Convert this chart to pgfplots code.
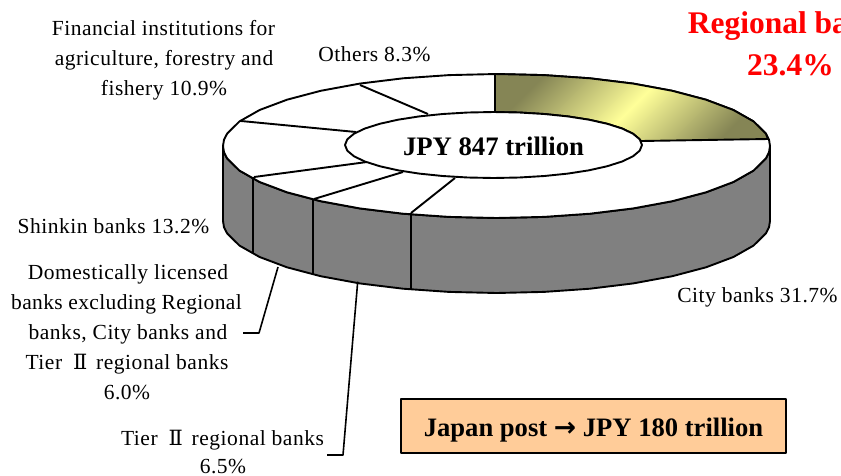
\documentclass[border=0pt]{standalone}
\usepackage{pgfplots}
\usepackage{fontspec}
\pgfplotsset{compat=1.18}
\setmainfont{Liberation Serif}
\newfontfamily\labfont[LetterSpace=2.4]{Liberation Serif}
\newfontfamily\labtight[LetterSpace=1.6]{Liberation Serif}
\newfontfamily\romfont{DejaVu Serif}
\newfontfamily\arrowfont{DejaVu Sans}
\definecolor{sidegray}{HTML}{808080}
\definecolor{paleyellow}{HTML}{FFFF99}
\definecolor{darkolive}{HTML}{858555}
\definecolor{boxorange}{HTML}{FFCC99}
\newcommand{\txt}{\labfont\fontsize{21.5}{24}\selectfont}
\newcommand{\txtt}{\labtight\fontsize{21.5}{24}\selectfont}
\newcommand{\two}{\hspace{5pt}{\romfont\fontsize{21}{21}\selectfont Ⅱ}\hspace{3pt}}
\tikzset{lab/.style={anchor=base},ln/.style={draw=black,line join=round,line width=1.9pt}}
\begin{document}
\begin{tikzpicture}
\clip (0,0) rectangle (841pt,475pt);
\begin{axis}[
  width=841pt,height=475pt,scale only axis,
  xmin=0,xmax=841,ymin=0,ymax=475,y dir=reverse,
  axis lines=none,clip=false,no markers
]
% side band of the disc
\addplot[fill=sidegray,ln] coordinates {
(223,146)(224,152.3)(227.2,158.5)(239.5,170.6)(259.6,182)(287,192.3)(320.7,201.2)(359.7,208.4)(403,213.7)(449,216.9)(496.5,218)
(544,216.9)(590,213.7)(633.3,208.4)(672.3,201.2)(706,192.3)(733.4,182)(753.5,170.6)(765.8,158.5)(769,152.3)(770,146)
(770,221)(769,227.3)(765.8,233.5)(753.5,245.6)(733.4,257)(706,267.3)(672.3,276.2)(633.3,283.4)(590,288.7)(544,291.9)(496.5,293)
(449,291.9)(403,288.7)(359.7,283.4)(320.7,276.2)(287,267.3)(259.6,257)(239.5,245.6)(227.2,233.5)(224,227.3)(223,221)
} -- cycle;
% top face
\addplot[fill=white,ln] coordinates {
(223,146)(224,152.3)(227.2,158.5)(239.5,170.6)(259.6,182)(287,192.3)(320.7,201.2)(359.7,208.4)(403,213.7)(449,216.9)(496.5,218)
(544,216.9)(590,213.7)(633.3,208.4)(672.3,201.2)(706,192.3)(733.4,182)(753.5,170.6)(765.8,158.5)(769,152.3)(770,146)
(769,139.7)(765.8,133.5)(753.5,121.4)(733.4,110)(706,99.7)(672.3,90.8)(633.3,83.6)(590,78.3)(544,75.1)(496.5,74)
(449,75.1)(403,78.3)(359.7,83.6)(320.7,90.8)(287,99.7)(259.6,110)(239.5,121.4)(227.2,133.5)(224,139.7)
} -- cycle;
% Regional banks slice
\addplot[ln,left color=darkolive,right color=darkolive,middle color=paleyellow,shading angle=45] coordinates {
(495,74)(544,75.1)(590,78.3)(633.3,83.6)(672.3,90.8)(706,99.7)(733.4,110)(753.5,121.4)(765.8,133.5)(768,139)
(641,141)(639.7,139.3)(633,133.7)(622.1,128.5)(607.3,123.8)(589,119.7)(567.8,116.4)(544.3,114)(519.3,112.5)(495,112)
} -- cycle;
% slice boundaries on the top face
\addplot[ln] coordinates {(411,213)(455,178)};
\addplot[ln] coordinates {(314,199)(403,172)};
\addplot[ln] coordinates {(254,177)(367,162)};
\addplot[ln] coordinates {(241,121)(356,132)};
\addplot[ln] coordinates {(360,85)(428,114)};
% slice boundaries on the side
\addplot[ln,line width=2.2pt] coordinates {(411,213)(411,289)};
\addplot[ln,line width=2.2pt] coordinates {(313,199)(313,275)};
\addplot[ln,line width=2.2pt] coordinates {(253,177)(253,253)};
% centre ellipse
\addplot[fill=white,ln] coordinates {
(493.5,112)(519.3,112.5)(544.3,114)(567.8,116.4)(589,119.7)(607.3,123.8)(622.1,128.5)(633,133.7)(639.7,139.3)(642,145)
(639.7,150.7)(633,156.3)(622.1,161.5)(607.3,166.2)(589,170.3)(567.8,173.6)(544.3,176)(519.3,177.5)(493.5,178)
(467.7,177.5)(442.7,176)(419.2,173.6)(398,170.3)(379.7,166.2)(364.9,161.5)(354,156.3)(347.3,150.7)(345,145)
(347.3,139.3)(354,133.7)(364.9,128.5)(379.7,123.8)(398,119.7)(419.2,116.4)(442.7,114)(467.7,112.5)
} -- cycle;
% leader lines
\addplot[ln,line width=1.6pt] coordinates {(278,267)(259,333)(243,333)};
\addplot[ln,line width=1.6pt] coordinates {(357.7,281.7)(343,455)(327,455)};
% Japan post box
\addplot[fill=boxorange,ln,line width=1.5pt] coordinates {(401,399)(786,399)(786,453)(401,453)} -- cycle;
% labels
\node[lab,font=\bfseries\fontsize{26.7}{30}\selectfont] at (493.5,155) {JPY 847 trillion};
\node[lab,font=\bfseries\fontsize{26.6}{30}\selectfont] at (593.5,436) {Japan post {\arrowfont →} JPY 180 trillion};
\node[lab,font=\bfseries\fontsize{31.5}{36}\selectfont,text=red] at (791.5,33) {Regional banks};
\node[lab,font=\bfseries\fontsize{31.5}{36}\selectfont,text=red] at (790.5,75) {23.4\%};
\node[lab,font=\txt] at (163.5,35) {Financial institutions for};
\node[lab,font=\txt] at (164,65) {agriculture, forestry and};
\node[lab,font=\txt] at (164,95) {fishery 10.9\%};
\node[lab,font=\txt] at (374.5,61) {Others 8.3\%};
\node[lab,font=\txt] at (113.5,233) {Shinkin banks 13.2\%};
\node[lab,font=\txt] at (128,279) {Domestically licensed};
\node[lab,font=\txtt] at (126.5,309) {banks excluding Regional};
\node[lab,font=\txt] at (128,339) {banks, City banks and};
\node[lab,font=\txt] at (127,369) {Tier \two\ regional banks};
\node[lab,font=\txt] at (127,399) {6.0\%};
\node[lab,font=\txt] at (222.5,445) {Tier \two\ regional banks};
\node[lab,font=\txt] at (223,473.5) {6.5\%};
\node[lab,font=\txt] at (757.5,302) {City banks 31.7\%};
\end{axis}
\end{tikzpicture}
\end{document}
